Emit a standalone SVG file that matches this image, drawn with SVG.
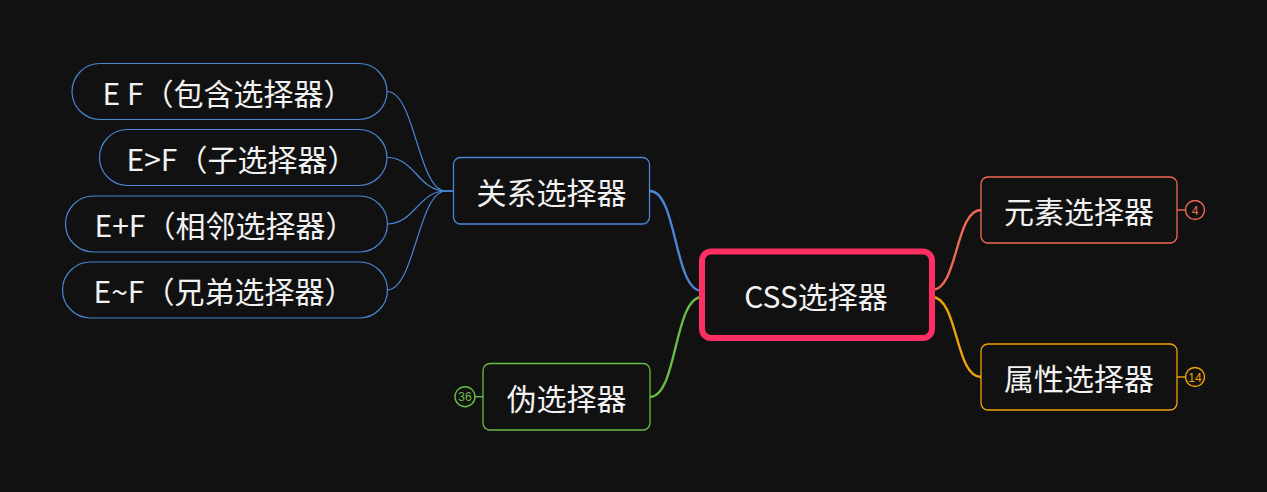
<svg xmlns="http://www.w3.org/2000/svg" width="1267" height="492" viewBox="0 0 1267 492">
  <style>
    .t { font-family: "Noto Sans CJK SC", "Noto Sans", sans-serif; fill: #f2f2f2; text-anchor: middle; dominant-baseline: central; }
    .l1 { font-size: 30px; }
    .l2 { font-size: 30px; }
    .node { fill: #111111; }
    .blue { stroke: #4a86d4; }
    .red { stroke: #f06a53; }
    .orange { stroke: #f0a30a; }
    .green { stroke: #67bd45; }
    .conn path { fill: none; stroke-linecap: round; }
    .main { stroke-width: 2.4; }
    .sub { stroke-width: 1.2; }
    .badge circle { fill: #111111; stroke-width: 1.4; }
    .badge line { stroke-width: 1.4; }
    .bt { font-family: "Liberation Sans", "DejaVu Sans", sans-serif; font-size: 12px; text-anchor: middle; dominant-baseline: central; }
  </style>
  <rect width="1267" height="492" fill="#111111"/>

  <g id="connectors" class="conn">
    <path class="main blue" d="M650,191 C677,191 674,291 702,291"/>
    <path class="main green" d="M650,397 C677,397 674,297 702,297"/>
    <path class="main red" d="M932,290 C958,290 955,210 981,210"/>
    <path class="main orange" d="M932,297 C958,297 955,377 981,377"/>
    <path class="sub blue" d="M453,191 L446,191 C418,191 415,91.5 387,91.5"/>
    <path class="sub blue" d="M453,191 L446,191 C418,191 415,157.5 387,157.5"/>
    <path class="sub blue" d="M453,191 L446,191 C418,191 415,224 387,224"/>
    <path class="sub blue" d="M453,191 L446,191 C418,191 415,290 387,290"/>
  </g>

  <g id="root">
    <rect class="node" x="702" y="251.5" width="230" height="86.5" rx="9" stroke="#ff2e63" stroke-width="6"/>
    <text class="t l1" x="816" y="294.5">CSS选择器</text>
  </g>

  <g id="n-guanxi">
    <rect class="node blue" x="453.5" y="157.5" width="196" height="66.5" rx="7" stroke-width="1.3"/>
    <text class="t l1" x="551.5" y="190.7">关系选择器</text>
  </g>

  <g id="n-wei">
    <rect class="node green" x="483" y="363.5" width="167" height="66.5" rx="7" stroke-width="1.3"/>
    <text class="t l1" x="566.5" y="396.7">伪选择器</text>
    <g class="badge green">
      <line x1="475" y1="396.7" x2="483" y2="396.7"/>
      <circle cx="465" cy="396.7" r="10"/>
      <text class="bt" x="465" y="397" fill="#67bd45" stroke="none">36</text>
    </g>
  </g>

  <g id="n-yuansu">
    <rect class="node red" x="981" y="177" width="196" height="66" rx="7" stroke-width="1.3"/>
    <text class="t l1" x="1079" y="210">元素选择器</text>
    <g class="badge red">
      <line x1="1177" y1="210" x2="1185.5" y2="210"/>
      <circle cx="1195" cy="210" r="9.5"/>
      <text class="bt" x="1195" y="210.5" fill="#f06a53" stroke="none">4</text>
    </g>
  </g>

  <g id="n-shuxing">
    <rect class="node orange" x="981" y="344" width="196" height="66" rx="7" stroke-width="1.3"/>
    <text class="t l1" x="1079" y="377">属性选择器</text>
    <g class="badge orange">
      <line x1="1177" y1="377" x2="1185.5" y2="377"/>
      <circle cx="1195" cy="377" r="9.5"/>
      <text class="bt" x="1195" y="377.5" fill="#f0a30a" stroke="none">14</text>
    </g>
  </g>

  <g id="n-baohan">
    <rect class="node blue" x="72" y="63.5" width="315" height="56" rx="28" stroke-width="1.2"/>
    <text class="t l2" x="228" y="91.5">E F（包含选择器）</text>
  </g>

  <g id="n-zi">
    <rect class="node blue" x="99.5" y="129.5" width="287.5" height="56" rx="28" stroke-width="1.2"/>
    <text class="t l2" x="242" y="157.5">E&gt;F（子选择器）</text>
  </g>

  <g id="n-xianglin">
    <rect class="node blue" x="65.5" y="196" width="322" height="56" rx="28" stroke-width="1.2"/>
    <text class="t l2" x="225" y="224">E+F（相邻选择器）</text>
  </g>

  <g id="n-xiongdi">
    <rect class="node blue" x="62.5" y="262" width="325" height="56" rx="28" stroke-width="1.2"/>
    <text class="t l2" x="224" y="290">E~F（兄弟选择器）</text>
  </g>
</svg>
